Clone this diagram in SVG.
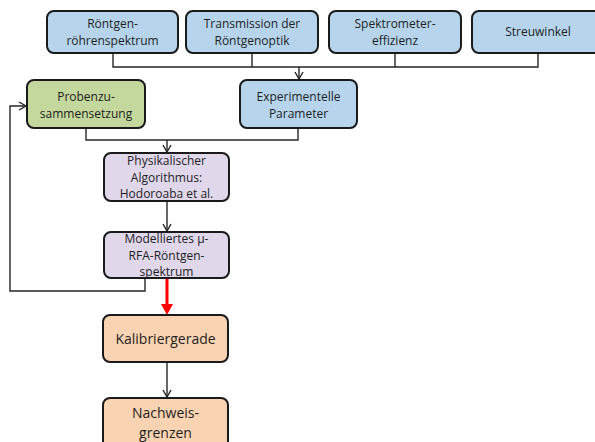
<svg xmlns="http://www.w3.org/2000/svg" width="595" height="442" viewBox="0 0 595 442">
<defs>
<style>
.box{stroke:#1a1a1a;stroke-width:2}
.blue{fill:#b6d5ec}
.green{fill:#c4d89d}
.lav{fill:#e0d7ea}
.peach{fill:#fad3b2}
text{font-family:"Open Sans","Liberation Sans",sans-serif;font-size:12px;fill:#1e1e1e;text-anchor:middle}
.big{font-size:14px}
.conn{fill:none;stroke:#262626;stroke-width:1.4}
.head{fill:none;stroke:#262626;stroke-width:1.4}
.red{fill:none;stroke:#ff0000;stroke-width:3}
</style>
</defs>
<rect width="595" height="442" fill="#ffffff"/>
<g id="connectors">
<path class="conn" d="M113,53 V67 H538 V53 M252,53 V67 M395,53 V67"/>
<path class="conn" d="M299,67 V79"/><path class="head" d="M295,72 L299,79 L303,72"/>
<path class="conn" d="M86,128 V140 H298 V128"/>
<path class="conn" d="M167,140 V152"/><path class="head" d="M163,145 L167,152 L171,145"/>
<path class="conn" d="M167,201 V231"/><path class="head" d="M163,224 L167,231 L171,224"/>
<path class="conn" d="M145,278 V291 H10 V106 H26"/><path class="head" d="M19,102 L26,106 L19,110"/>
<path class="red" d="M167,279 V306"/><path d="M161,304 L173,304 L167,315 Z" fill="#ff0000"/>
<path class="conn" d="M167,362 V397"/><path class="head" d="M163,390 L167,397 L171,390"/>
</g>
<g id="n1"><rect class="box blue" x="47" y="11" width="131" height="42" rx="7"/><text x="112.5" y="28">Röntgen-</text><text x="112.5" y="45">röhrenspektrum</text></g>
<g id="n2"><rect class="box blue" x="186" y="11" width="132" height="42" rx="7"/><text x="252" y="28">Transmission der</text><text x="252" y="45">Röntgenoptik</text></g>
<g id="n3"><rect class="box blue" x="329" y="11" width="132" height="42" rx="7"/><text x="395" y="28">Spektrometer-</text><text x="395" y="45">effizienz</text></g>
<g id="n4"><rect class="box blue" x="472" y="11" width="132" height="42" rx="7"/><text x="538" y="36">Streuwinkel</text></g>
<g id="n5"><rect class="box green" x="27" y="80" width="118" height="48" rx="7"/><text x="86" y="101">Probenzu-</text><text x="86" y="118">sammensetzung</text></g>
<g id="n6"><rect class="box blue" x="240" y="80" width="117" height="48" rx="7"/><text x="298.5" y="101">Experimentelle</text><text x="298.5" y="118">Parameter</text></g>
<g id="n7"><rect class="box lav" x="104" y="153" width="125" height="48" rx="7"/><text x="166.5" y="165">Physikalischer</text><text x="166.5" y="182">Algorithmus:</text><text x="166.5" y="198">Hodoroaba et al.</text></g>
<g id="n8"><rect class="box lav" x="104" y="232" width="125" height="46" rx="7"/><text x="166.5" y="243">Modelliertes µ-</text><text x="166.5" y="260">RFA-Röntgen-</text><text x="166.5" y="276">spektrum</text></g>
<g id="n9"><rect class="box peach" x="103" y="315" width="125" height="47" rx="7"/><text class="big" x="165.5" y="344">Kalibriergerade</text></g>
<g id="n10"><rect class="box peach" x="103" y="398" width="125" height="56" rx="7"/><text class="big" x="165.5" y="418">Nachweis-</text><text class="big" x="165.5" y="438">grenzen</text></g>
</svg>
